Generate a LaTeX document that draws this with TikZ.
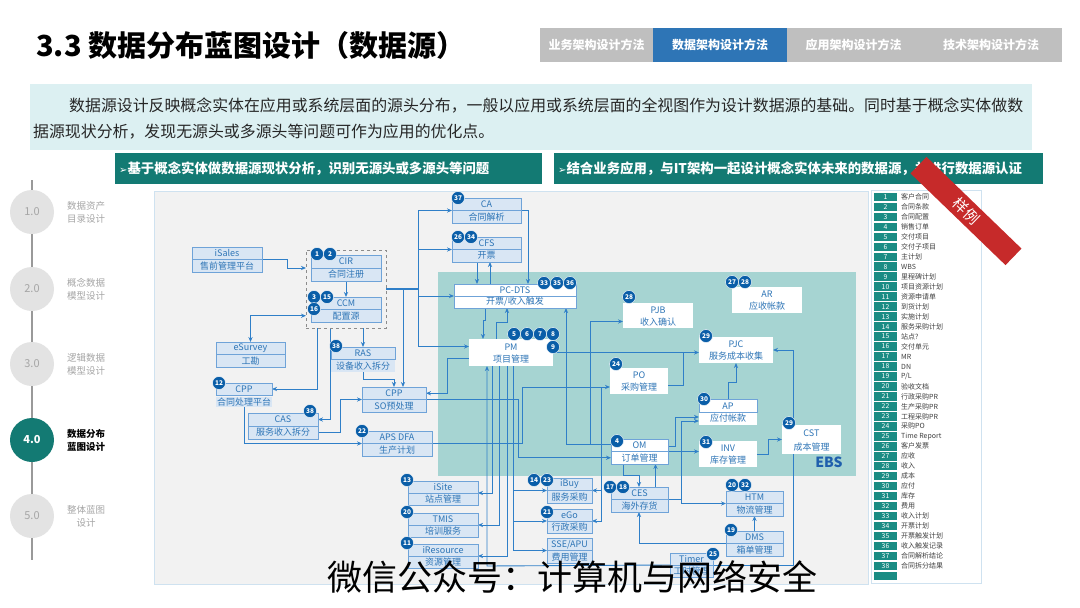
\documentclass[tikz,border=0pt]{standalone}
\usepackage{fontspec}
\setmainfont{Noto Sans CJK SC}
\newfontfamily\dvs{DejaVu Sans}
\usetikzlibrary{arrows.meta}
\pgfdeclarelayer{bg}
\pgfdeclarelayer{lines}
\pgfsetlayers{bg,lines,main}
\definecolor{nodefill}{HTML}{D9E6F4}
\definecolor{nodeline}{HTML}{6FA3D8}
\definecolor{ntext}{HTML}{2E75B6}
\definecolor{conncol}{HTML}{2F7FC8}
\definecolor{badgecol}{HTML}{0A5EA8}
\definecolor{ebscol}{HTML}{A6D4D2}
\definecolor{panelcol}{HTML}{F2F2F2}
\definecolor{barteal}{HTML}{137A73}
\definecolor{legteal}{HTML}{1A8C84}
\definecolor{descbg}{HTML}{DCF0F2}
\definecolor{tabgray}{HTML}{BFBFBF}
\definecolor{tabblue}{HTML}{2E75B6}
\definecolor{ribboncol}{HTML}{C62A2A}
\definecolor{sidegray}{HTML}{E3E3E3}
\definecolor{sidetext}{HTML}{A6A6A6}
\definecolor{panelline}{HTML}{CFE2F0}
\definecolor{ebstext}{HTML}{1F5FAD}
\tikzset{
 >={Stealth[length=5pt,width=4.2pt]},
 conn/.style={draw=conncol, line width=0.9pt, ->},
 cline/.style={draw=conncol, line width=0.9pt},
 ub/.style={draw=nodeline, fill=nodefill, line width=0.8pt, inner sep=0pt, outer sep=0pt},
 wb/.style={fill=white, inner sep=0pt, outer sep=0pt},
 ubl/.style={draw=nodeline, line width=0.8pt},
 utxt/.style={text=ntext, font=\fontsize{9}{10}\selectfont, inner sep=0pt},
 bdg/.style={circle, fill=badgecol, draw=white, line width=0.4pt, text=white, font=\bfseries\fontsize{6.5}{7}\selectfont, inner sep=0pt, minimum size=13pt},
 tabst/.style={minimum height=34pt, inner sep=0pt, text=white, font=\bfseries\fontsize{12}{13}\selectfont},
 sidec/.style={circle, fill=sidegray, minimum size=44pt, inner sep=0pt, text=sidetext, font=\fontsize{11}{12}\selectfont},
 sidel/.style={align=center, text=sidetext, font=\fontsize{9.5}{13}\selectfont, inner sep=0pt},
 numcell/.style={fill=legteal, minimum width=23pt, minimum height=8.6pt, inner sep=0pt, text=white, font=\fontsize{6.8}{7}\selectfont},
 legtxt/.style={anchor=west, inner sep=0pt, text=black!75, font=\fontsize{7}{7.5}\selectfont},
}
\newcommand\splitbox[8]{%
 \node[ub,#8,minimum width={#4-#2},minimum height={#5-#3}] (#1) at ({(#2+#4)/2},{(#3+#5)/2}) {};
 \draw[ubl] (#2,{(#3+#5)/2}) -- (#4,{(#3+#5)/2});
 \node[utxt] (#1t) at ({(#2+#4)/2},{(3*#3+#5)/4}) {#6};
 \node[utxt] (#1b) at ({(#2+#4)/2},{(#3+3*#5)/4}) {#7};}
\newcommand\whitebox[7]{%
 \node[wb,minimum width={#4-#2},minimum height={#5-#3}] (#1) at ({(#2+#4)/2},{(#3+#5)/2}) {};
 \node[utxt] (#1t) at ({(#2+#4)/2},{(3*#3+#5)/4+1}) {#6};
 \node[utxt] (#1b) at ({(#2+#4)/2},{(#3+3*#5)/4}) {#7};}
\newcommand\bd[4]{\node[bdg] (#1) at (#2,#3) {#4};}
\begin{document}
\begin{tikzpicture}[x=1pt,y=-1pt]
\useasboundingbox (0,0) rectangle (1080,608);
\begin{pgfonlayer}{bg}
\fill[white] (0,0) rectangle (1080,608);
\fill[panelcol] (154,191) rectangle (868,584);
\draw[panelline, line width=0.8pt] (154,191) rectangle (868,584);
\fill[ebscol] (438,272) rectangle (856,476);
\end{pgfonlayer}

% header
\node[anchor=west, inner sep=0pt, font=\bfseries\fontsize{29}{31}\selectfont] (title) at (36,45) {3.3 数据分布蓝图设计（数据源）};
\node[tabst, fill=tabgray, minimum width=113pt] (tab1) at (596.5,45) {业务架构设计方法};
\node[tabst, fill=tabblue, minimum width=134pt] (tab2) at (720,45) {数据架构设计方法};
\node[tabst, fill=tabgray, minimum width=133pt] (tab3) at (853.5,45) {应用架构设计方法};
\node[tabst, fill=tabgray, minimum width=142pt] (tab4) at (991,45) {技术架构设计方法};

% description
\node[fill=descbg, minimum width=1002pt, minimum height=66pt, inner sep=0pt] (desc) at (531,117) {};
\node[anchor=west, inner sep=0pt, text=black!85, font=\fontsize{15.9}{18}\selectfont] (d1) at (69,106) {数据源设计反映概念实体在应用或系统层面的源头分布，一般以应用或系统层面的全视图作为设计数据源的基础。同时基于概念实体做数};
\node[anchor=west, inner sep=0pt, text=black!85, font=\fontsize{15.9}{18}\selectfont] (d2) at (33,132) {据源现状分析，发现无源头或多源头等问题可作为应用的优化点。};

% green bars
\node[fill=barteal, minimum width=427pt, minimum height=31pt, inner sep=0pt] (bar1) at (328.5,168.5) {};
\node[fill=barteal, minimum width=489pt, minimum height=31pt, inner sep=0pt] (bar2) at (798.5,168.5) {};
\node[anchor=west, inner sep=0pt, text=white, font=\bfseries\fontsize{13.4}{15}\selectfont] (b1t) at (119,168.5) {{\dvs\fontsize{10}{11}\selectfont ➢}基于概念实体做数据源现状分析，识别无源头或多源头等问题};
\node[anchor=west, inner sep=0pt, text=white, font=\bfseries\fontsize{13.4}{15}\selectfont] (b2t) at (558,168.5) {{\dvs\fontsize{10}{11}\selectfont ➢}结合业务应用，与IT架构一起设计概念实体未来的数据源，并进行数据源认证};

% sidebar
\draw[black!40, line width=1.2pt] (32,180) -- (32,560);
\node[sidec] (s1) at (32,212) {1.0};
\node[sidec] (s2) at (32,289) {2.0};
\node[sidec] (s3) at (32,364) {3.0};
\node[sidec, fill=barteal, text=white, font=\bfseries\fontsize{11}{12}\selectfont] (s4) at (32,440) {4.0};
\node[sidec] (s5) at (32,516) {5.0};
\node[sidel] (s1l) at (86,212) {数据资产\\目录设计};
\node[sidel] (s2l) at (86,289) {概念数据\\模型设计};
\node[sidel] (s3l) at (86,364) {逻辑数据\\模型设计};
\node[sidel, text=black, font=\bfseries\fontsize{9.5}{13}\selectfont] (s4l) at (86,440) {数据分布\\蓝图设计};
\node[sidel] (s5l) at (86,516) {整体蓝图\\设计};

% group
\node[draw=black!45, dashed, line width=1pt, minimum width=80pt, minimum height=78pt, inner sep=0pt, outer sep=0pt] (grp) at (346,289) {};

% boxes outside EBS
\splitbox{iSales}{192}{247}{262}{272}{iSales}{售前管理平台}{}
\splitbox{CIR}{311}{255}{381}{281}{CIR}{合同注册}{}
\splitbox{CCM}{311}{297}{381}{322}{CCM}{配置源}{}
\splitbox{eSurvey}{216}{342}{285}{367}{eSurvey}{工勘}{}
\node[fill=nodefill, minimum width=64pt, minimum height=25pt, inner sep=0pt, outer sep=0pt] (RAS) at (363,359.5) {};
\draw[ubl] (331,347) rectangle (395,359.5);
\node[utxt] (RASt) at (363,353.25) {RAS};
\node[utxt] (RASb) at (363,366) {设备收入拆分};
\node[ub, minimum width=56pt, minimum height=12pt] (CPP12) at (244,389) {};
\node[utxt] (CPP12t) at (244,389) {CPP};
\node[utxt, fill=nodefill, inner sep=1pt] (CPP12l) at (244,402) {合同处理平台};
\splitbox{CAS}{248}{413}{318}{439}{CAS}{服务收入拆分}{}
\splitbox{CPPs}{362}{387}{426}{412}{CPP}{SO预处理}{}
\splitbox{APS}{362}{431}{432}{456}{APS DFA}{生产计划}{}
\splitbox{iSite}{408}{481}{478}{505}{iSite}{站点管理}{}
\splitbox{TMIS}{408}{513}{478}{537}{TMIS}{培训服务}{}
\splitbox{iRes}{408}{544}{478}{568}{iResource}{资源管理}{}
\splitbox{CA}{452}{198}{521}{223}{CA}{合同解析}{}
\splitbox{CFS}{452}{237}{521}{262}{CFS}{开票}{}
\splitbox{iBuy}{547}{478}{592}{503}{iBuy}{服务采购}{}
\splitbox{eGo}{547}{509}{592}{533}{eGo}{行政采购}{}
\splitbox{SSE}{547}{538}{592}{563}{SSE/APU}{费用管理}{}
\splitbox{CES}{611}{487}{668}{512}{CES}{海外存货}{}
\splitbox{HTM}{726}{491}{783}{516}{HTM}{物流管理}{}
\splitbox{DMS}{726}{531}{783}{556}{DMS}{箱单管理}{}
\splitbox{Timer}{670}{553}{713}{577}{Timer}{工时管理}{}

% EBS boxes
\splitbox{PCDTS}{454}{284}{576}{308}{PC-DTS}{开票/收入触发}{fill=white}
\splitbox{OM}{611}{439}{668}{464}{OM}{订单管理}{fill=white}
\whitebox{PM}{469}{339}{553}{366}{PM}{项目管理}
\whitebox{PJB}{623}{303}{693}{328}{PJB}{收入确认}
\whitebox{AR}{732}{287}{802}{313}{AR}{应收帐款}
\whitebox{PJC}{699}{337}{773}{363}{PJC}{服务成本收集}
\whitebox{PO}{610}{368}{668}{394}{PO}{采购管理}
\whitebox{CST}{782}{425}{841}{454}{CST}{成本管理}
\whitebox{INV}{699}{441}{757}{467}{INV}{库存管理}
\whitebox{AP}{699}{399}{757}{425}{AP}{应付帐款}
\draw[ubl] (699,399) rectangle (757,412);
\node[font=\bfseries\fontsize{14}{16}\selectfont, text=ebstext, inner sep=0pt] (ebs) at (829,462) {EBS};

% connectors
\begin{pgfonlayer}{lines}
\coordinate (bus) at (418,289);
\coordinate (bus2) at (403,289);
\draw[cline, line width=1.6pt] (grp.east) -- (bus);
\draw[conn] (iSales.east) -- (287,259.5) |- (grp.west |- CIR.west);
\draw[conn] (CIR.south) -- (CCM.north);
\draw[conn,<->] (eSurvey.north) |- (grp.west |- CCMb);
\draw[conn] ([xshift=17pt]grp.south) -- (RAS.north);
\draw[conn] (bus) |- (CA.west);
\draw[conn] (bus) |- (CFS.west);
\draw[conn] (bus) |- (PCDTS.west);
\draw[conn] (bus) |- ([yshift=6pt]PM.west);
\draw[conn] (bus2) -- ([xshift=9pt]CPPs.north);
\draw[conn] (RAS.south) -- (363,379) -| (CPPs.north);
\draw[conn] ([xshift=-29pt]grp.south) |- (CPP12.east);
\draw[conn] ([xshift=-16pt]grp.south) |- (CAS.east |- CASt);
\draw[conn] (CPP12l.south) |- (APS.west);
\draw[conn] (CAS.east |- CASb) -- (340,432.5) |- (CPPs.west);
\draw[conn] ([yshift=-6pt]PM.west) -- (447,358.5) |- (CPPs.east |- CPPst);
\draw[conn] (CPPs.east) -- (518,399.5) |- (OM.west |- OMb);
\draw[conn] (APS.east) -- (522,443.5) |- ([yshift=-6pt]PO.west);
\coordinate (j5) at (601,387);
\draw[conn] (j5) |- (iBuy.east);
\draw[conn] (j5) |- (eGo.east);
\draw[conn] ([xshift=-30pt]PCDTS.south) -- (485,320) -| ([xshift=-28pt]PM.north);
\draw[conn] ([xshift=-15pt]PM.north) -- (496,322) -| ([xshift=-8pt]PCDTS.south);
\draw[conn] ([xshift=-9.5pt]CFS.south) -- ([xshift=-38pt]PCDTS.north);
\draw[conn] ([xshift=-25pt]PCDTS.north) -- ([xshift=3.5pt]CFS.south);
\draw[conn] (CA.east) -| ([xshift=13pt]PCDTS.north);
\draw[conn] ([yshift=7pt]OM.west) -| ([xshift=51pt]PCDTS.south);
\coordinate (j1) at (590,444.5);
\draw[conn] (j1) |- ([yshift=-6pt]PJB.west);
\draw[conn] (PM.east) -- (PM.east -| PJC.west);
\draw[cline] ([yshift=-4pt]PO.east) -| (683,352.5);
\draw[conn] (AP.north) -- (728,382) -| (PJC.south);
\draw[conn] (Timer.east) -- (793,565) |- (PJC.east);
\draw[conn] (OM.east) -- (OM.east -| INV.west);
\draw[conn] (INV.east) -- (768,454) |- (CST.west);
\draw[conn] ([yshift=5pt]OM.east) -- (675,446.5) |- ([yshift=-5pt]AP.west);
\coordinate (j2) at (681,499.5);
\draw[conn] (CES.east) -- (j2) |- ([yshift=-9pt]AP.west);
\draw[conn] (j2) |- (HTM.west);
\draw[conn] ([xshift=-16.5pt]OM.south) -- (623,475) -| ([xshift=-0.5pt]CES.north);
\draw[conn] ([xshift=16pt]CES.north) -- ([xshift=16pt]OM.south);
\draw[conn] (DMS.west) -| ([xshift=-0.5pt]CES.south);
\draw[conn] (DMS.north) -- (HTM.south);
\draw[conn] ([xshift=-19pt]PM.south) |- (iSite.east);
\draw[conn] ([xshift=-12pt]PM.south) |- (TMIS.east);
\draw[conn] ([xshift=-4pt]PM.south) |- (iRes.east);
\draw[conn] (Timer.west) -- (487,566) -- ([xshift=-24pt]PM.south);
\coordinate (j3) at (513,490.5);
\coordinate (j4) at (513,521);
\draw[conn] ([xshift=2pt]PM.south) |- (iBuy.west);
\draw[conn] (j3) |- (eGo.west);
\draw[conn] (j4) |- (SSE.west);
\end{pgfonlayer}

% badges
\bd{b1}{317}{254}{1} \bd{b2}{330}{254}{2}
\bd{b3}{314}{297}{3} \bd{b15}{327}{297}{15} \bd{b16}{314}{309}{16}
\bd{b38a}{336}{346}{38}
\bd{b12}{219}{383}{12}
\bd{b38b}{310}{411}{38}
\bd{b22}{362}{431}{22}
\bd{b13}{407}{480}{13} \bd{b20a}{407}{512}{20} \bd{b11}{407}{543}{11}
\bd{b37}{458}{198}{37}
\bd{b26}{458}{237}{26} \bd{b34}{471}{237}{34}
\bd{b33}{544}{283}{33} \bd{b35}{557}{283}{35} \bd{b36}{570}{283}{36}
\bd{b5}{514}{334}{5} \bd{b6}{527}{334}{6} \bd{b7}{540}{334}{7} \bd{b8}{553}{334}{8} \bd{b9}{553}{347}{9}
\bd{b28a}{629}{297}{28}
\bd{b27}{732}{282}{27} \bd{b28b}{745}{282}{28}
\bd{b29a}{706}{336}{29}
\bd{b24}{616}{364}{24}
\bd{b30}{704}{399}{30}
\bd{b31}{706}{442}{31}
\bd{b29b}{789}{423}{29}
\bd{b4}{617}{441}{4}
\bd{b14}{534}{480}{14} \bd{b23}{547}{480}{23}
\bd{b21}{547}{512}{21}
\bd{b17}{610}{487}{17} \bd{b18}{623}{487}{18}
\bd{b20b}{732}{485}{20} \bd{b32}{745}{485}{32}
\bd{b19}{731}{530}{19}
\bd{b25}{713}{554}{25}

% legend
\node[draw=panelline, fill=white, line width=0.8pt, minimum width=110pt, minimum height=393pt, inner sep=0pt, anchor=north west] (leg) at (871,190) {};
\foreach \i/\t in {1/客户合同,2/合同条款,3/合同配置,4/销售订单,5/交付项目,6/交付子项目,7/主计划,8/WBS,9/里程碑计划,10/项目资源计划,11/资源申请单,12/到货计划,13/实施计划,14/服务采购计划,15/站点?,16/交付单元,17/MR,18/DN,19/{P/L},20/验收文档,21/行政采购PR,22/生产采购PR,23/工程采购PR,24/采购PO,25/Time Report,26/客户发票,27/应收,28/收入,29/成本,30/应付,31/库存,32/费用,33/收入计划,34/开票计划,35/开票触发计划,36/收入触发记录,37/合同解析结论,38/合同拆分结果}{
  \node[numcell] (n\i) at (885.5,{197+(\i-1)*9.97}) {\i};
  \node[legtxt] (l\i) at (901,{197+(\i-1)*9.97}) {\t};
}
\node[numcell] (n39) at (885.5,576) {};

% ribbon
\node[fill=ribboncol, rotate=-44, minimum width=132pt, minimum height=23pt, inner sep=0pt, text=white, font=\fontsize{15}{16}\selectfont] (rib) at (966,211) {样例};

% watermark
\node[inner sep=0pt, font=\fontsize{35}{36}\selectfont] (wm) at (572,577) {微信公众号：计算机与网络安全};
\end{tikzpicture}
\end{document}
